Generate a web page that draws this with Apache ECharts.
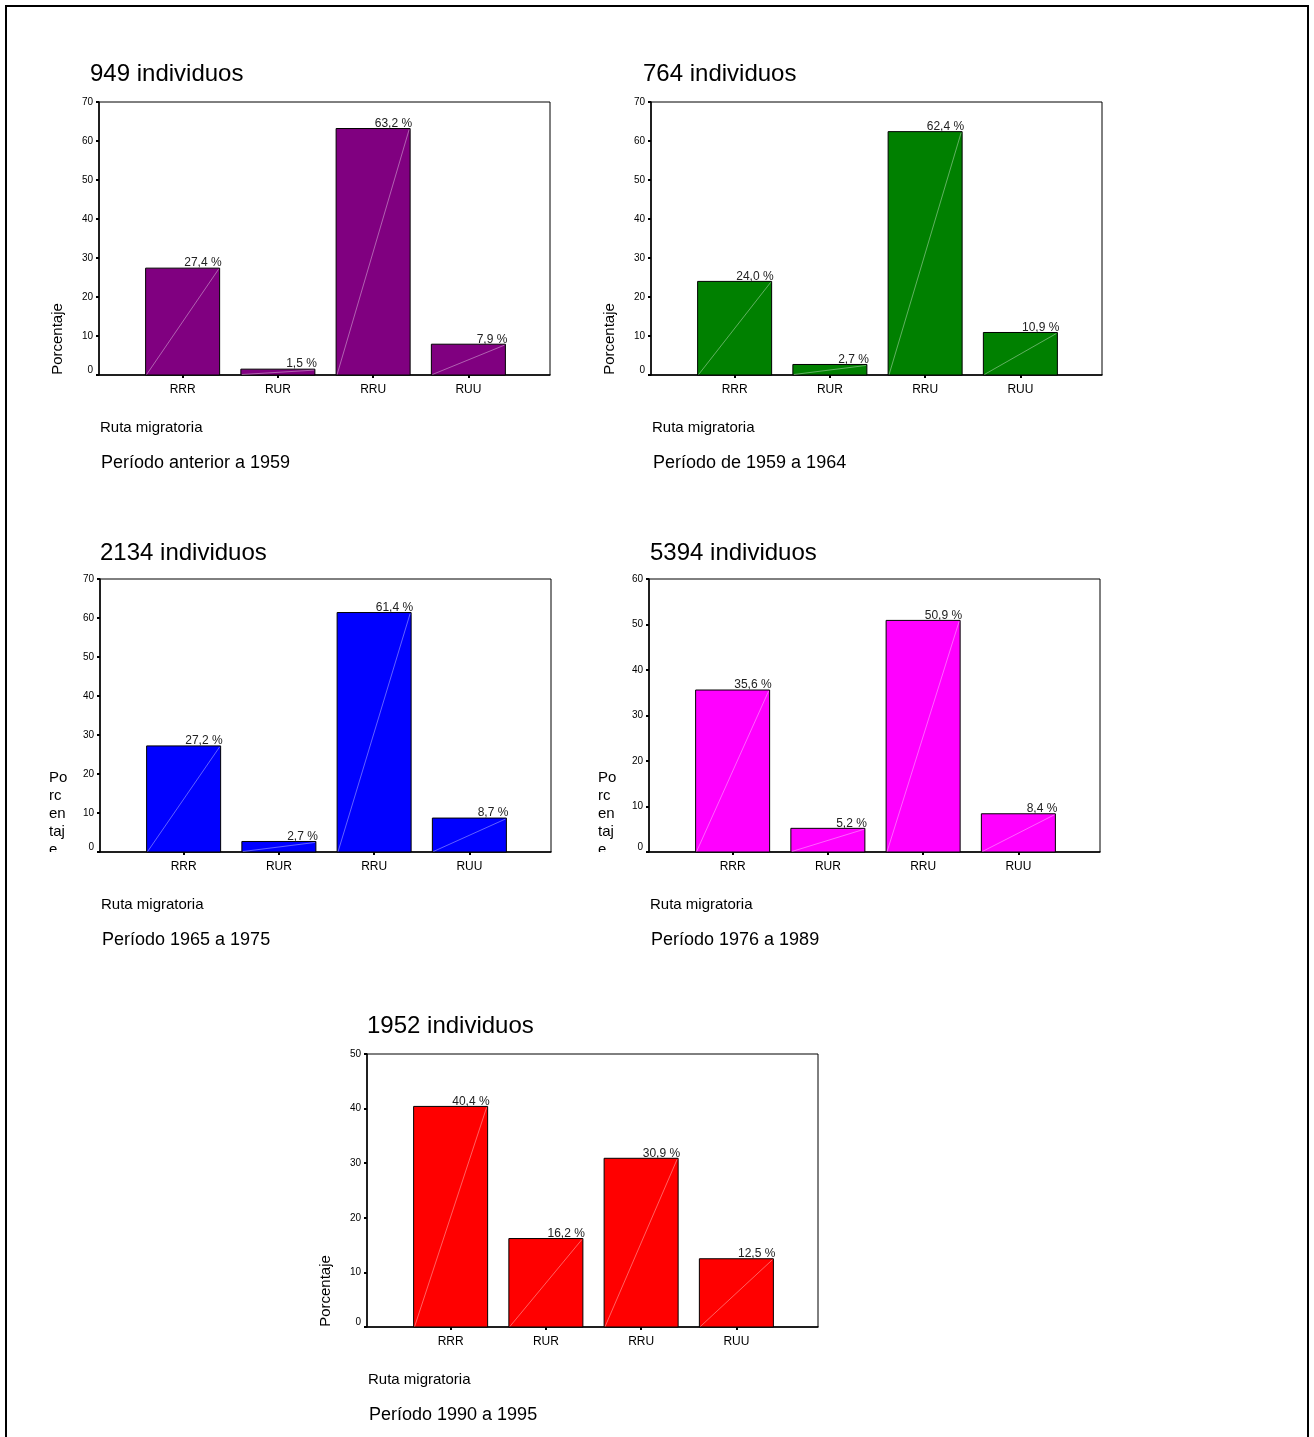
<!DOCTYPE html>
<html><head><meta charset="utf-8">
<script src="https://cdn.jsdelivr.net/npm/echarts@6/dist/echarts.min.js"></script>
<style>html,body{margin:0;padding:0;background:#fff}#c{width:1314px;height:1437px}</style>
</head><body><div id="c"></div>
<script>
// ---- data ----
const categories = ['RRR', 'RUR', 'RRU', 'RUU'];
const valuesAntes1959 = [27.4, 1.5, 63.2, 7.9];
const values1959a1964 = [24.0, 2.7, 62.4, 10.9];
const values1965a1975 = [27.2, 2.7, 61.4, 8.7];
const values1976a1989 = [35.6, 5.2, 50.9, 8.4];
const values1990a1995 = [40.4, 16.2, 30.9, 12.5];
const chartTitles = ['949 individuos', '764 individuos', '2134 individuos', '5394 individuos', '1952 individuos'];
const periodLabels = ['Período anterior a 1959', 'Período de 1959 a 1964', 'Período 1965 a 1975', 'Período 1976 a 1989', 'Período 1990 a 1995'];
const yAxisMax = [70, 70, 70, 60, 50];
const yTickStep = 10;
const xAxisTitle = 'Ruta migratoria';
const yAxisTitle = 'Porcentaje';
const yAxisTitleWrapped = 'Po\nrc\nen\ntaj\ne';

const allValues = [valuesAntes1959, values1959a1964, values1965a1975, values1976a1989, values1990a1995];
const colors = ['#800080', '#008000', '#0000FF', '#FF00FF', '#FF0000'];

// ---- layout ----
const FONT = '"Liberation Sans", Arial, Helvetica, sans-serif';
const W = 451, H = 273;
const layout = [
  { ax: 99,  top: 102, titleDx: -9, titleDy: -28, wrapY: false },
  { ax: 651, top: 102, titleDx: -8, titleDy: -28, wrapY: false },
  { ax: 100, top: 579, titleDx: 0,  titleDy: -26, wrapY: true },
  { ax: 649, top: 579, titleDx: 1,  titleDy: -26, wrapY: true },
  { ax: 367, top: 1054, titleDx: 0, titleDy: -28, wrapY: false }
];

function fmt(v) { return v.toFixed(1).replace('.', ',') + ' %'; }

function makeRender(color) {
  return function (params, api) {
    const idx = api.value(0), val = api.value(1);
    const t = api.coord([idx, val]);
    const b = api.coord([idx, 0]);
    const band = api.size([1, 0])[0];
    const bw = band * 0.777;
    const x0 = t[0] - bw / 2, x1 = t[0] + bw / 2;
    return {
      type: 'group',
      children: [
        { type: 'rect', shape: { x: x0, y: t[1], width: bw, height: b[1] - t[1] },
          style: { fill: color, stroke: '#000', lineWidth: 1 } },
        { type: 'line', shape: { x1: x0 + 1, y1: b[1] - 0.5, x2: x1 - 1, y2: t[1] + 1 },
          style: { stroke: 'rgba(255,255,255,0.55)', lineWidth: 0.7 } },
        { type: 'text', z2: 10,
          style: { text: fmt(val), x: x1 + 2, y: t[1] + 1,
            align: 'right', verticalAlign: 'bottom', textAlign: 'right', textVerticalAlign: 'bottom',
            font: '12px ' + FONT, fill: '#222' } }
      ]
    };
  };
}

const grid = [], xAxis = [], yAxis = [], series = [], graphic = [];

graphic.push({ type: 'rect', z: 100, shape: { x: 6, y: 6, width: 1302, height: 1445 },
  style: { fill: 'none', stroke: '#000', lineWidth: 2 } });

layout.forEach((L, i) => {
  const gi = 2 * i, bi = 2 * i + 1;
  grid.push({ left: L.ax, top: L.top, width: W, height: H, show: true, borderColor: '#000', borderWidth: 1, backgroundColor: 'transparent' });
  grid.push({ left: L.ax + 36, top: L.top, width: 381, height: H });
  xAxis.push({ gridIndex: gi, type: 'value', min: 0, max: 1,
    axisLine: { show: true, lineStyle: { color: '#000', width: 1.5 } },
    axisTick: { show: false }, axisLabel: { show: false }, splitLine: { show: false } });
  yAxis.push({ gridIndex: gi, type: 'value', min: 0, max: yAxisMax[i], interval: yTickStep,
    axisLine: { show: true, lineStyle: { color: '#000', width: 1.5 } },
    axisTick: { show: true, length: 3, lineStyle: { color: '#000', width: 2 } },
    splitLine: { show: false },
    axisLabel: { fontSize: 10, fontFamily: FONT, color: '#000', margin: 6,
      formatter: v => v === 0 ? '{z|0}' : String(v),
      rich: { z: { fontSize: 10, fontFamily: FONT, color: '#000', padding: [0, 0, 10, 0] } } } });
  xAxis.push({ gridIndex: bi, type: 'category', data: categories, boundaryGap: true,
    axisLine: { show: false },
    axisTick: { show: true, alignWithLabel: true, length: 3, lineStyle: { color: '#000', width: 2 } },
    axisLabel: { fontSize: 12, fontFamily: FONT, color: '#000', margin: 9 } });
  yAxis.push({ gridIndex: bi, type: 'value', min: 0, max: yAxisMax[i], show: false });
  series.push({ type: 'custom', xAxisIndex: bi, yAxisIndex: bi,
    data: allValues[i].map((v, k) => [k, v]), renderItem: makeRender(colors[i]), clip: false });

  // texts
  graphic.push({ type: 'text', x: L.ax + L.titleDx, y: L.top + L.titleDy,
    style: { text: chartTitles[i], x: 0, y: 0, align: 'left', verticalAlign: 'middle', textAlign: 'left', textVerticalAlign: 'middle',
      font: '24px ' + FONT, fill: '#000' } });
  graphic.push({ type: 'text', x: L.ax + 1, y: L.top + H + 52.5,
    style: { text: xAxisTitle, x: 0, y: 0, align: 'left', verticalAlign: 'middle', textAlign: 'left', textVerticalAlign: 'middle',
      font: '15px ' + FONT, fill: '#000' } });
  graphic.push({ type: 'text', x: L.ax + 2, y: L.top + H + 88,
    style: { text: periodLabels[i], x: 0, y: 0, align: 'left', verticalAlign: 'middle', textAlign: 'left', textVerticalAlign: 'middle',
      font: '18px ' + FONT, fill: '#000' } });
  if (!L.wrapY) {
    graphic.push({ type: 'text', x: L.ax - 41, y: L.top + H - 36, rotation: Math.PI / 2,
      style: { text: yAxisTitle, x: 0, y: 0, align: 'center', verticalAlign: 'middle', textAlign: 'center', textVerticalAlign: 'middle',
        font: '15px ' + FONT, fill: '#000' } });
  } else {
    graphic.push({ type: 'text', x: L.ax - 51, y: L.top + 190,
      style: { text: yAxisTitleWrapped, x: 0, y: 0, align: 'left', verticalAlign: 'top', textAlign: 'left', textVerticalAlign: 'top',
        lineHeight: 18, font: '15px ' + FONT, fill: '#000' } });
    graphic.push({ type: 'rect', z: 50, shape: { x: L.ax - 56, y: L.top + H, width: 24, height: 14 },
      style: { fill: '#fff' } });
  }
});

const chart = echarts.init(document.getElementById('c'), null, { renderer: 'canvas' });
chart.setOption({
  backgroundColor: '#fff',
  animation: false,
  grid, xAxis, yAxis, series, graphic
});
</script>
</body></html>
